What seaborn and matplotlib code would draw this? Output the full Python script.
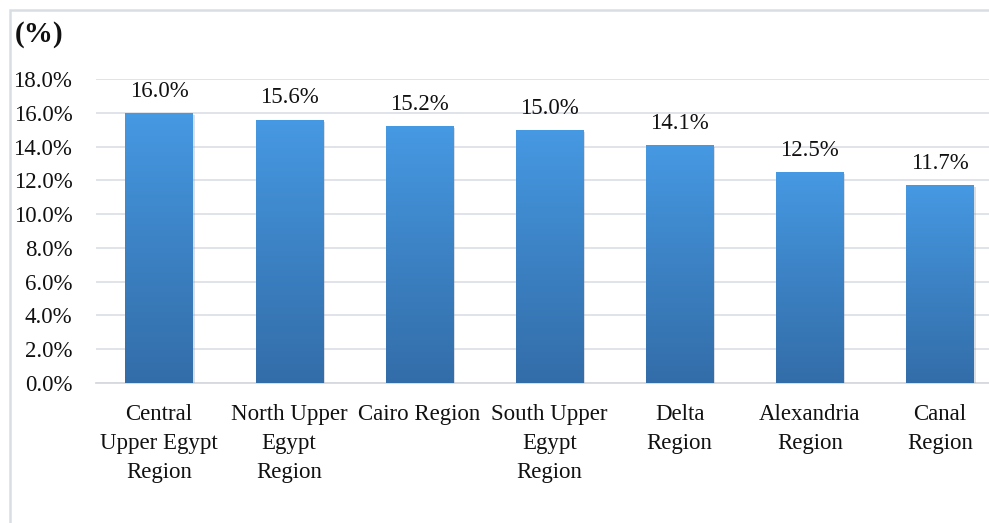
import numpy as np
import pandas as pd
import matplotlib
matplotlib.use("Agg")
import matplotlib.pyplot as plt
import matplotlib.patheffects as pe
from matplotlib.colors import LinearSegmentedColormap
from matplotlib.patches import Rectangle
import seaborn as sns

regions = [
    "Central\nUpper Egypt\nRegion",
    "North Upper\nEgypt\nRegion",
    "Cairo Region",
    "South Upper\nEgypt\nRegion",
    "Delta\nRegion",
    "Alexandria\nRegion",
    "Canal\nRegion",
]
shares = [16.0, 15.6, 15.2, 15.0, 14.1, 12.5, 11.7]
y_ticks = [0, 2, 4, 6, 8, 10, 12, 14, 16, 18]

df = pd.DataFrame({"region": regions, "share": shares})

sns.set_theme(style="white")
plt.rcParams["font.family"] = ["Liberation Serif", "DejaVu Serif"]

W, H = 989, 523
fig = plt.figure(figsize=(W / 100, H / 100), dpi=100)
fig.patch.set_facecolor("white")

ax_left, ax_right = 96 / W, 989 / W
ax_bottom, ax_top = (H - 383) / H, (H - 79) / H
ax = fig.add_axes([ax_left, ax_bottom, ax_right - ax_left, ax_top - ax_bottom])

sns.barplot(data=df, x="region", y="share", order=regions, color="#3D85C8",
            width=0.515, saturation=1, ax=ax, zorder=3)

# vertical gradient fill, lighter at the top of each bar
grad_cmap = LinearSegmentedColormap.from_list("bar_grad", ["#336DA9", "#3C82C4", "#4699E3"])
grad = np.linspace(0, 1, 256).reshape(-1, 1)
for patch in ax.patches:
    x0, y0 = patch.get_x(), patch.get_y()
    w, h = patch.get_width(), patch.get_height()
    patch.set_edgecolor("none")
    patch.set_path_effects([pe.SimplePatchShadow(offset=(1.5, -1.5), shadow_rgbFace="#9AA3AD", alpha=0.35),
                            pe.Normal()])
    im = ax.imshow(grad, extent=[x0, x0 + w, y0, y0 + h], origin="lower",
                   cmap=grad_cmap, aspect="auto", zorder=4, interpolation="bicubic")
    im.set_clip_path(patch)

# value labels above the bars
for i, v in enumerate(shares):
    ax.annotate(f"{v:.1f}%", xy=(i, v), xytext=(0, 8), textcoords="offset points",
                ha="center", va="bottom", fontsize=16.5, color="#111111", zorder=5)

ax.set_xlim(-0.484, 6.377)
ax.set_ylim(0, 18)
ax.set_yticks(y_ticks)
ax.set_yticklabels([f"{t:.1f}%" for t in y_ticks])
ax.set_xlabel("")
ax.set_ylabel("")

ax.grid(axis="y", color="#DDE1E7", linewidth=1.3, zorder=0)
ax.grid(axis="x", visible=False)
ax.set_axisbelow(True)
for side in ["left", "right", "top"]:
    ax.spines[side].set_visible(False)
ax.spines["bottom"].set_color("#D5D9DF")
ax.spines["bottom"].set_linewidth(1.3)

ax.tick_params(axis="y", length=0, pad=17, labelsize=16.5, labelcolor="#111111")
ax.tick_params(axis="x", length=0, pad=15, labelsize=16.5, labelcolor="#111111")
for lab in ax.get_xticklabels():
    lab.set_linespacing(1.5)
    lab.set_ha("center")

fig.text(15 / W, 1 - 35 / H, "(%)", fontsize=21, fontweight="bold",
         ha="left", va="center", color="#111111")

# light frame round the chart area
fig.patches.append(Rectangle((10 / W, -0.1), 1.2, 1 - 10 / H + 0.1, transform=fig.transFigure,
                             fill=False, edgecolor="#D9DEE5", linewidth=1.8, zorder=0))

fig.savefig("out.png", dpi=100, facecolor="white")
